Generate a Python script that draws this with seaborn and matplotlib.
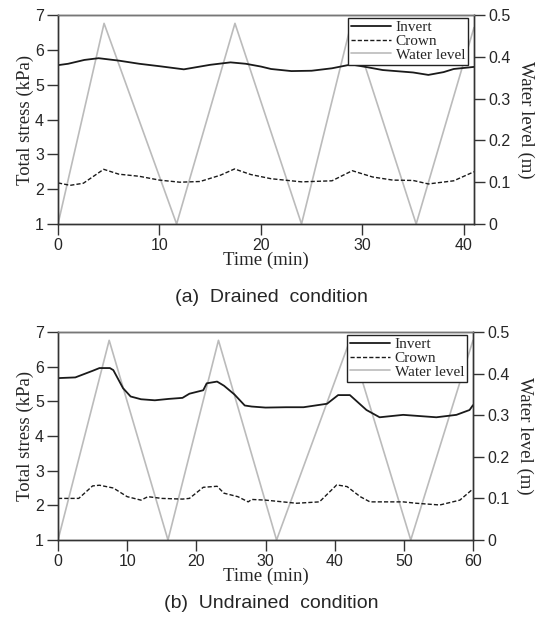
import numpy as np
import pandas as pd
import matplotlib
matplotlib.use('Agg')
import matplotlib.pyplot as plt
import seaborn as sns

# (a) drained condition
t_inv_a = [0, 1, 2.6, 4, 6, 8, 10, 12.4, 15, 17, 18.5, 20, 21, 23, 25, 27, 28.9, 30.5, 32, 35, 36.5, 38, 39, 41]
inv_a = [5.56, 5.6, 5.71, 5.76, 5.69, 5.6, 5.53, 5.44, 5.57, 5.64, 5.6, 5.52, 5.45, 5.39, 5.4, 5.47, 5.58, 5.5, 5.42, 5.35, 5.28, 5.36, 5.45, 5.51]
t_crn_a = [0, 1.2, 2.5, 4.5, 6, 8, 10, 12, 14, 16, 17.4, 19, 21, 24, 27, 29, 31, 33, 35, 36.5, 39, 41]
crn_a = [2.18, 2.11, 2.17, 2.57, 2.43, 2.37, 2.26, 2.2, 2.22, 2.4, 2.58, 2.42, 2.3, 2.21, 2.24, 2.53, 2.35, 2.26, 2.25, 2.15, 2.24, 2.5]
t_wl_a = [0, 4.54, 11.69, 17.44, 24.0, 28.9, 35.3, 41]
wl_a = [0, 0.48, 0, 0.48, 0, 0.48, 0, 0.47]

# (b) undrained condition
t_inv_b = [0, 2.5, 5, 6, 7.5, 8, 9.4, 10.5, 12, 14, 16, 18, 19, 21, 21.5, 23, 24, 25.5, 27, 28, 30, 33, 35.5, 38.9, 40.5, 42.2, 44.6, 46.5, 49.9, 54.7, 57.6, 59.5, 60]
inv_b = [5.67, 5.69, 5.88, 5.96, 5.96, 5.9, 5.38, 5.14, 5.06, 5.03, 5.07, 5.1, 5.22, 5.32, 5.52, 5.57, 5.45, 5.2, 4.88, 4.85, 4.82, 4.83, 4.83, 4.93, 5.18, 5.18, 4.75, 4.54, 4.61, 4.54, 4.61, 4.75, 4.89]
t_crn_b = [0, 3, 5, 6, 8, 10, 12, 13, 15, 18, 19, 21, 23, 24, 26, 27.5, 28, 30, 34.5, 37.8, 40.3, 41.8, 43.7, 45.1, 49.9, 51.8, 55.2, 58.1, 59.8, 60]
crn_b = [2.2, 2.2, 2.56, 2.58, 2.5, 2.25, 2.15, 2.25, 2.2, 2.18, 2.2, 2.52, 2.55, 2.35, 2.25, 2.1, 2.17, 2.15, 2.06, 2.1, 2.59, 2.54, 2.25, 2.1, 2.1, 2.06, 2.01, 2.15, 2.44, 2.46]
t_wl_b = [0, 7.4, 15.9, 23.2, 31.6, 42.2, 51.0, 60]
wl_b = [0, 0.48, 0, 0.48, 0, 0.48, 0, 0.48]

panels = [
    dict(ti=t_inv_a, inv=inv_a, tc=t_crn_a, crn=crn_a, tw=t_wl_a, wl=wl_a,
         xmax=41, xticks=[0, 10, 20, 30, 40], cap='(a)  Drained  condition'),
    dict(ti=t_inv_b, inv=inv_b, tc=t_crn_b, crn=crn_b, tw=t_wl_b, wl=wl_b,
         xmax=60, xticks=[0, 10, 20, 30, 40, 50, 60], cap='(b)  Undrained  condition'),
]

sns.set_style('ticks')
plt.rcParams['font.family'] = ['Liberation Sans', 'DejaVu Sans']
serif = 'Liberation Serif'
spine_c = '#333333'

fig = plt.figure(figsize=(5.38, 6.31), dpi=100)
W, H = 538, 631
boxes = [(58, 15, 474, 224), (58, 332, 473, 540)]
cap_y = [298, 604]

for p, (x0, y0, x1, y1), cy in zip(panels, boxes, cap_y):
    ax = fig.add_axes([x0 / W, 1 - y1 / H, (x1 - x0) / W, (y1 - y0) / H])
    ax2 = ax.twinx()
    ax.set_zorder(ax2.get_zorder() + 1)
    ax.patch.set_visible(False)

    sns.lineplot(x=p['tw'], y=p['wl'], ax=ax2, color='#bbbbbb', lw=1.2)
    sns.lineplot(x=p['ti'], y=p['inv'], ax=ax, color='#1a1a1a', lw=1.3, label='Invert')
    sns.lineplot(x=p['tc'], y=p['crn'], ax=ax, color='#1a1a1a', lw=1.0,
                 linestyle=(0, (3, 1.5)), label='Crown')
    ax.plot([], [], color='#bbbbbb', lw=1.2, label='Water level')

    ax.set_xlim(0, p['xmax'])
    ax.set_ylim(1, 7)
    ax2.set_ylim(0, 0.5)
    ax.set_xticks(p['xticks'])
    ax.set_yticks(range(1, 8))
    ax2.set_yticks([0, 0.1, 0.2, 0.3, 0.4, 0.5])
    ax2.set_yticklabels(['0', '0.1', '0.2', '0.3', '0.4', '0.5'])

    for a in (ax, ax2):
        for s in a.spines.values():
            s.set_visible(True)
            s.set_color(spine_c)
            s.set_linewidth(1.0)
        a.tick_params(direction='out', length=8, width=1.0, color=spine_c,
                      labelsize=11.5, pad=2)
    ax.spines['top'].set_color('#777777')

    ax.set_xlabel('Time (min)', family=serif, fontsize=13.5, labelpad=-1)
    ax.set_ylabel('Total stress (kPa)', family=serif, fontsize=13.5, labelpad=1)
    ax2.set_ylabel('Water level (m)', family=serif, fontsize=13.5, rotation=270,
                   labelpad=17)

    leg = ax.legend(loc='upper right', bbox_to_anchor=(0.99, 0.995),
                    prop={'family': serif, 'size': 11}, frameon=True,
                    fancybox=False, handlelength=2.6, handletextpad=0.3,
                    labelspacing=0.0, borderpad=0.2, borderaxespad=0.1)
    leg.get_frame().set_edgecolor('#222222')
    leg.get_frame().set_linewidth(1.0)
    leg.get_frame().set_alpha(1)

    fig.text(271 / W, 1 - cy / H, p['cap'], ha='center', va='center', fontsize=14)

fig.savefig('out.png', dpi=100)
